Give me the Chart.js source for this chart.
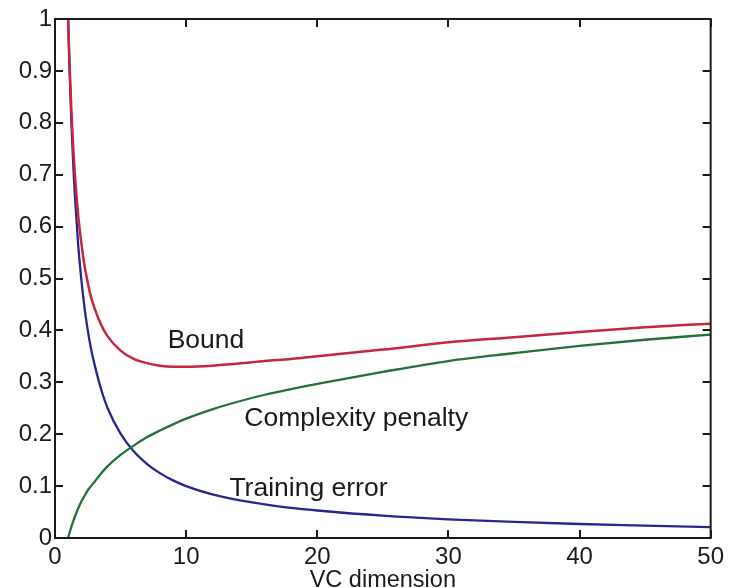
<!DOCTYPE html>
<html>
<head>
<meta charset="utf-8">
<script src="https://cdn.jsdelivr.net/npm/chart.js@4/dist/chart.umd.min.js"></script>
<style>
  html, body { margin: 0; padding: 0; background: #ffffff; }
  #wrap { width: 729px; height: 588px; }
</style>
</head>
<body>
<div id="wrap"><canvas id="c" width="729" height="588"></canvas></div>
<script>
// VC dimension values (x)
const vcDim = [1, 1.1, 1.25, 1.4, 1.5, 1.75, 2, 2.25, 2.5, 2.75, 3, 3.5, 4, 5, 6, 7, 8, 9, 10, 12, 14, 16, 18, 20, 25, 30, 35, 40, 45, 50];
// Series
const trainingError = [1.0, 0.91, 0.80, 0.714, 0.667, 0.571, 0.50, 0.444, 0.40, 0.364, 0.336, 0.288, 0.251, 0.201, 0.167, 0.143, 0.125, 0.111, 0.10, 0.084, 0.073, 0.065, 0.058, 0.053, 0.043, 0.036, 0.031, 0.027, 0.024, 0.021];
const complexityPenalty = [0, 0.009, 0.022, 0.033, 0.04, 0.056, 0.07, 0.081, 0.092, 0.1, 0.108, 0.124, 0.138, 0.16, 0.178, 0.194, 0.207, 0.219, 0.23, 0.248, 0.263, 0.276, 0.287, 0.297, 0.320, 0.341, 0.356, 0.370, 0.382, 0.392];
const bound = [1.0, 0.919, 0.822, 0.747, 0.707, 0.627, 0.57, 0.525, 0.492, 0.464, 0.444, 0.412, 0.389, 0.361, 0.345, 0.337, 0.332, 0.330, 0.330, 0.332, 0.336, 0.341, 0.345, 0.350, 0.363, 0.377, 0.387, 0.397, 0.406, 0.413];
// Tick labels
const xTickLabels = ['0', '10', '20', '30', '40', '50'];
const yTickLabels = ['0', '0.1', '0.2', '0.3', '0.4', '0.5', '0.6', '0.7', '0.8', '0.9', '1'];
// Curve annotations: [text, x value, y value]
const curveLabels = [
  ['Bound', 8.59, 0.366],
  ['Complexity penalty', 14.44, 0.216],
  ['Training error', 13.3, 0.081]
];

const FONT = '"Liberation Sans", Arial, Helvetica, sans-serif';
const pts = arr => vcDim.map((d, i) => ({ x: d, y: arr[i] }));

const framePlugin = {
  id: 'frame',
  afterDatasetsDraw(chart) {
    const { ctx, chartArea: a, scales: { x, y } } = chart;
    ctx.save();
    ctx.strokeStyle = '#1a1a1a';
    ctx.lineWidth = 2;
    ctx.strokeRect(a.left, a.top, a.right - a.left, a.bottom - a.top);
    const tl = 8;
    ctx.beginPath();
    x.ticks.forEach(t => {
      const px = Math.round(x.getPixelForValue(t.value));
      ctx.moveTo(px, a.bottom); ctx.lineTo(px, a.bottom - tl);
      ctx.moveTo(px, a.top); ctx.lineTo(px, a.top + tl);
    });
    y.ticks.forEach(t => {
      const py = Math.round(y.getPixelForValue(t.value));
      ctx.moveTo(a.left, py); ctx.lineTo(a.left + tl, py);
      ctx.moveTo(a.right, py); ctx.lineTo(a.right - tl, py);
    });
    ctx.stroke();
    ctx.fillStyle = '#1a1a1a';
    ctx.font = '26.5px ' + FONT;
    ctx.textAlign = 'left';
    ctx.textBaseline = 'alphabetic';
    curveLabels.forEach(([txt, xv, yv]) => {
      ctx.fillText(txt, x.getPixelForValue(xv), y.getPixelForValue(yv));
    });
    ctx.restore();
  }
};

new Chart(document.getElementById('c'), {
  type: 'line',
  data: {
    datasets: [
      { label: 'Bound', data: pts(bound), borderColor: '#c8253f', borderWidth: 2.5 },
      { label: 'Complexity penalty', data: pts(complexityPenalty), borderColor: '#24703a', borderWidth: 2.3 },
      { label: 'Training error', data: pts(trainingError), borderColor: '#26268f', borderWidth: 2.3 }
    ]
  },
  options: {
    responsive: false,
    animation: false,
    events: [],
    layout: { padding: { top: 19, right: 16, left: 0, bottom: 0 } },
    elements: {
      point: { radius: 0 },
      line: { cubicInterpolationMode: 'monotone', fill: false }
    },
    plugins: { legend: { display: false }, tooltip: { enabled: false } },
    scales: {
      x: {
        type: 'linear', min: 0, max: 50,
        afterFit(s) { s.height = 50; },
        grid: { display: false, drawTicks: false },
        border: { display: false },
        ticks: {
          stepSize: 10, padding: 5, color: '#1a1a1a', maxRotation: 0,
          font: { family: FONT, size: 24 },
          callback: (v, i) => xTickLabels[i]
        },
        title: {
          display: true, text: 'VC dimension', color: '#1a1a1a',
          font: { family: FONT, size: 23.5, lineHeight: 1.2 },
          padding: { top: 0, bottom: -7 }
        }
      },
      y: {
        type: 'linear', min: 0, max: 1,
        afterFit(s) { s.width = 55; },
        grid: { display: false, drawTicks: false },
        border: { display: false },
        ticks: {
          stepSize: 0.1, padding: 3, color: '#1a1a1a',
          font: { family: FONT, size: 24 },
          callback: (v, i) => yTickLabels[i]
        }
      }
    }
  },
  plugins: [framePlugin]
});
</script>
</body>
</html>
